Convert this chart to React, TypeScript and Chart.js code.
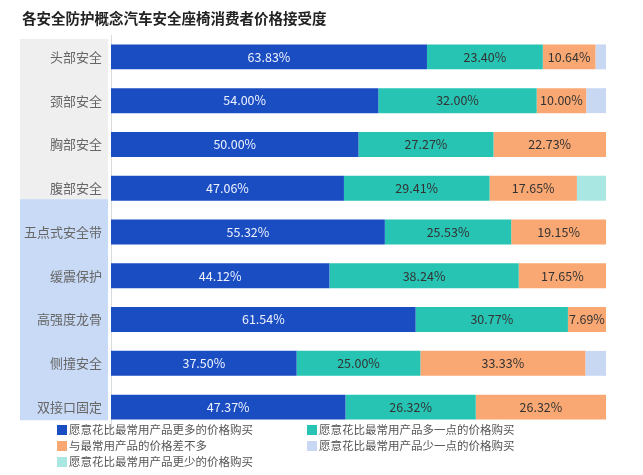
import React, { useEffect, useRef } from "react";
import { Chart, registerables } from "chart.js";
Chart.register(...registerables);

const title = "各安全防护概念汽车安全座椅消费者价格接受度";
const categories = ["头部安全", "颈部安全", "胸部安全", "腹部安全", "五点式安全带", "缓震保护", "高强度龙骨", "侧撞安全", "双接口固定"];
const seriesNames = [
  "愿意花比最常用产品更多的价格购买",
  "愿意花比最常用产品多一点的价格购买",
  "与最常用产品的价格差不多",
  "愿意花比最常用产品少一点的价格购买",
  "愿意花比最常用产品更少的价格购买",
];
const muchMore = [63.83, 54.0, 50.0, 47.06, 55.32, 44.12, 61.54, 37.5, 47.37];
const bitMore = [23.4, 32.0, 27.27, 29.41, 25.53, 38.24, 30.77, 25.0, 26.32];
const same = [10.64, 10.0, 22.73, 17.65, 19.15, 17.65, 7.69, 33.33, 26.32];
const bitLess = [2.13, 4.0, 0, 0, 0, 0, 0, 4.17, 0];
const muchLess = [0, 0, 0, 5.88, 0, 0, 0, 0, 0];
const colors = ["#1B4DC2", "#27C3B3", "#F9A873", "#C9D8F2", "#A9E8E2"];
const labelColors = ["#EEF3FF", "#333333", "#333333", null, null];
const groups = [
  { from: 0, to: 3, color: "#EFEFEF" },
  { from: 4, to: 8, color: "#C8DAF5" },
];

const FONT = "'Noto Sans CJK SC', 'Microsoft YaHei', sans-serif";

const decor = {
  id: "decor",
  beforeDraw(chart: any) {
    const ctx = chart.ctx;
    const y = chart.scales.y;
    const step = y.getPixelForValue(1) - y.getPixelForValue(0);
    ctx.save();
    ctx.fillStyle = "#222";
    ctx.font = `bold 14.5px ${FONT}`;
    ctx.textBaseline = "middle";
    ctx.textAlign = "left";
    ctx.fillText(title, 22, 18);
    groups.forEach((g, i) => {
      const top = i === 0 ? y.getPixelForValue(g.from) - step * 0.41 : y.getPixelForValue(g.from - 1) + step * 0.25;
      const bottom = i === groups.length - 1 ? y.getPixelForValue(g.to) + step * 0.3 : y.getPixelForValue(g.to) + step * 0.25;
      ctx.fillStyle = g.color;
      ctx.fillRect(20, top, 88, bottom - top);
    });
    ctx.fillStyle = "#666";
    ctx.font = `13px ${FONT}`;
    ctx.textAlign = "right";
    categories.forEach((c, i) => {
      ctx.fillText(c, 102, y.getPixelForValue(i));
    });
    ctx.restore();
  },
  afterDatasetsDraw(chart: any) {
    const ctx = chart.ctx;
    ctx.save();
    ctx.font = `12.5px ${FONT}`;
    ctx.textAlign = "center";
    ctx.textBaseline = "middle";
    chart.data.datasets.forEach((ds: any, di: number) => {
      const col = labelColors[di];
      if (!col) return;
      const meta = chart.getDatasetMeta(di);
      meta.data.forEach((bar: any, i: number) => {
        const v = ds.data[i];
        if (!v) return;
        const cx = (bar.x + bar.base) / 2;
        ctx.fillStyle = col;
        ctx.fillText(v.toFixed(2) + "%", cx, bar.y);
      });
    });
    ctx.font = `11.5px ${FONT}`;
    ctx.textAlign = "left";
    const pos = [
      [57, 430], [307, 430], [57, 446], [307, 446], [57, 462],
    ];
    seriesNames.forEach((n, i) => {
      const [lx, ly] = pos[i];
      ctx.fillStyle = colors[i];
      ctx.fillRect(lx, ly - 5, 10, 10);
      ctx.fillStyle = "#555";
      ctx.fillText(n, lx + 12, ly);
    });
    ctx.restore();
  },
};

export default function App() {
  const ref = useRef<HTMLCanvasElement>(null);
  useEffect(() => {
    if (!ref.current) return;
    const data = [muchMore, bitMore, same, bitLess, muchLess];
    const chart = new Chart(ref.current, {
      type: "bar",
      data: {
        labels: categories,
        datasets: data.map((d, i) => ({
          label: seriesNames[i],
          data: d,
          backgroundColor: colors[i],
          borderWidth: 0,
          categoryPercentage: 1,
          barPercentage: 0.57,
        })),
      },
      options: {
        indexAxis: "y",
        animation: false,
        responsive: false,
        maintainAspectRatio: false,
        layout: { padding: { top: 35, bottom: 46, left: 111, right: 37 } },
        plugins: { legend: { display: false }, tooltip: { enabled: false } },
        scales: {
          x: { stacked: true, min: 0, max: 100, display: false },
          y: {
            stacked: true,
            ticks: { display: false },
            grid: { display: false, drawTicks: false },
            border: { display: true, color: "#DADADA", width: 1 },
          },
        },
      },
      plugins: [decor],
    });
    return () => chart.destroy();
  }, []);
  return (
    <div style={{ position: "fixed", left: 0, top: 0, width: 643, height: 475, background: "#fff" }}>
      <canvas ref={ref} width={643} height={475} style={{ width: 643, height: 475 }} />
    </div>
  );
}
